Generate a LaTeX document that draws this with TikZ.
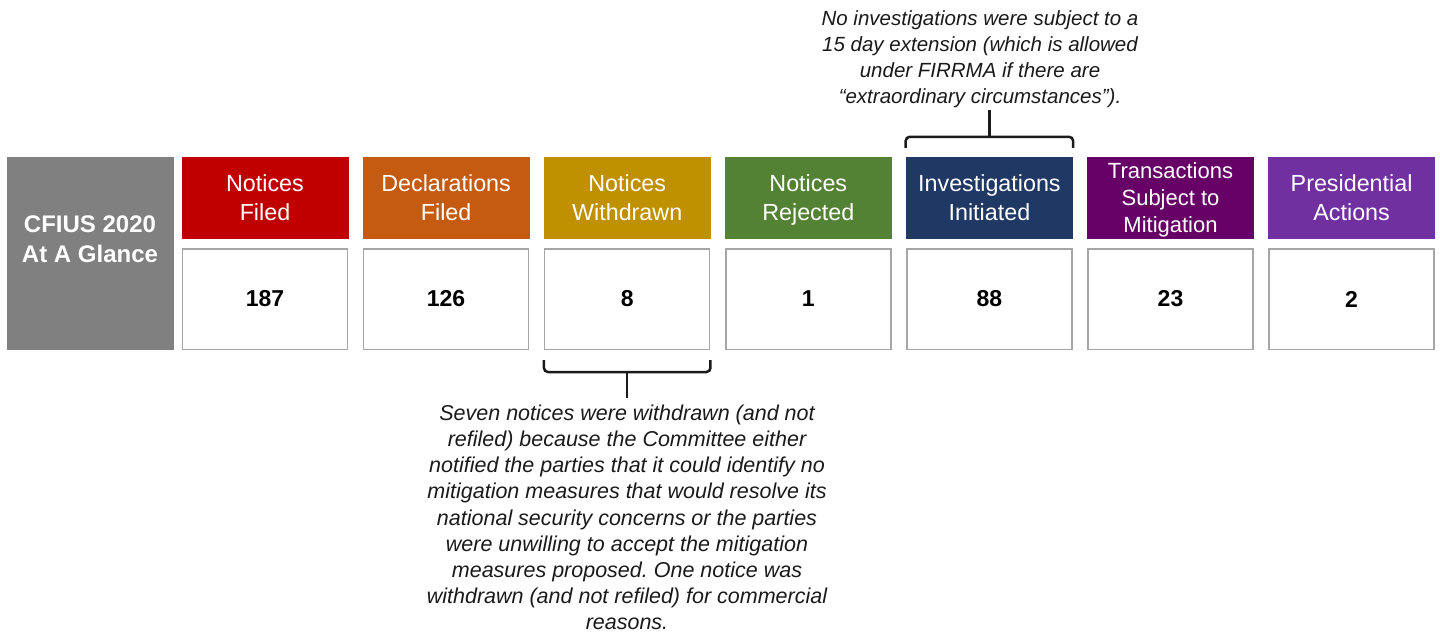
\documentclass[tikz,border=0pt]{standalone}
\usepackage{fontspec}
\setmainfont{Liberation Sans}
\frenchspacing
\definecolor{cgray}{HTML}{808080}
\definecolor{cred}{HTML}{C00000}
\definecolor{corange}{HTML}{C55A11}
\definecolor{cgold}{HTML}{BF9000}
\definecolor{cgreen}{HTML}{548235}
\definecolor{cnavy}{HTML}{1F3864}
\definecolor{cplum}{HTML}{660066}
\definecolor{cpurple}{HTML}{7030A0}
\definecolor{boxgray}{HTML}{A6A6A6}
\definecolor{annot}{HTML}{1A1A1A}
\begin{document}
\begin{tikzpicture}[x=1pt,y=-1pt,
  hdr/.style={minimum width=167pt, minimum height=82pt, inner sep=0pt, text=white, align=center, text depth=0pt, font=\fontsize{23.3}{29}\selectfont},
  valbox/.style={draw=boxgray, line width=1.5pt, fill=white, minimum width=165pt, minimum height=100.5pt, inner sep=0pt, text=black, font=\bfseries\fontsize{23}{28}\selectfont},
  annot/.style={font=\itshape\fontsize{20.5}{26}\selectfont, align=center, inner sep=0pt, text=annot},
  brace/.style={line width=2.5pt, rounded corners=4pt, draw=annot}]
\useasboundingbox (0,0) rectangle (1440,634);

% title box
\node[fill=cgray, minimum width=167pt, minimum height=193pt, inner sep=0pt] (gbox) at (90.5,253.5) {};
\node[text=white, align=center, inner sep=0pt, font=\bfseries\fontsize{24}{30}\selectfont] (gtitle) at (90,239.5) {CFIUS 2020\\At A Glance};

% headers
\node[hdr, fill=cred]    (h1) at (265,198)    {Notices\\Filed};
\node[hdr, fill=corange] (h2) at (446.1,198)  {Declarations\\Filed};
\node[hdr, fill=cgold]   (h3) at (627.2,198)  {Notices\\Withdrawn};
\node[hdr, fill=cgreen]  (h4) at (808.3,198)  {Notices\\Rejected};
\node[hdr, fill=cnavy]   (h5) at (989.4,198)  {Investigations\\Initiated};
\node[hdr, fill=cplum, font=\fontsize{22}{27}\selectfont] (h6) at (1170.5,198) {Transactions\\Subject to\\Mitigation};
\node[hdr, fill=cpurple] (h7) at (1351.6,198) {Presidential\\Actions};

% values
\node[valbox] (v1) at (265,299)    {187};
\node[valbox] (v2) at (446.1,299)  {126};
\node[valbox] (v3) at (627.2,299)  {8};
\node[valbox] (v4) at (808.3,299)  {1};
\node[valbox] (v5) at (989.4,299)  {88};
\node[valbox] (v6) at (1170.5,299) {23};
\node[valbox] (v7) at (1351.6,299) {2};

% top brace
\coordinate (tb1) at ([yshift=9pt]h5.north west);
\coordinate (tb2) at ([yshift=9pt]h5.north east);
\coordinate (tbm) at ([yshift=20pt]h5.north);
\coordinate (tbt) at ([yshift=47pt]h5.north);
\draw[brace] (tb1) |- (tbm) -| (tb2);
\draw[brace] (tbm) -- (tbt);

% bottom brace
\coordinate (bb1) at ([yshift=-10pt]v3.south west);
\coordinate (bb2) at ([yshift=-10pt]v3.south east);
\coordinate (bbm) at ([yshift=-22pt]v3.south);
\coordinate (bbt) at ([yshift=-48pt]v3.south);
\draw[brace] (bb1) |- (bbm) -| (bb2);
\draw[brace] (bbm) -- (bbt);

% annotations
\node[annot, anchor=north] (topnote) at (980,10.5) {No investigations were subject to a\\15 day extension (which is allowed\\under FIRRMA if there are\\``extraordinary circumstances'').};
\node[annot, anchor=north, font=\itshape\fontsize{21.5}{26.2}\selectfont] (botnote) at (627,404.5) {Seven notices were withdrawn (and not\\refiled) because the Committee either\\notified the parties that it could identify no\\mitigation measures that would resolve its\\national security concerns or the parties\\were unwilling to accept the mitigation\\measures proposed. One notice was\\withdrawn (and not refiled) for commercial\\reasons.};
\end{tikzpicture}
\end{document}
